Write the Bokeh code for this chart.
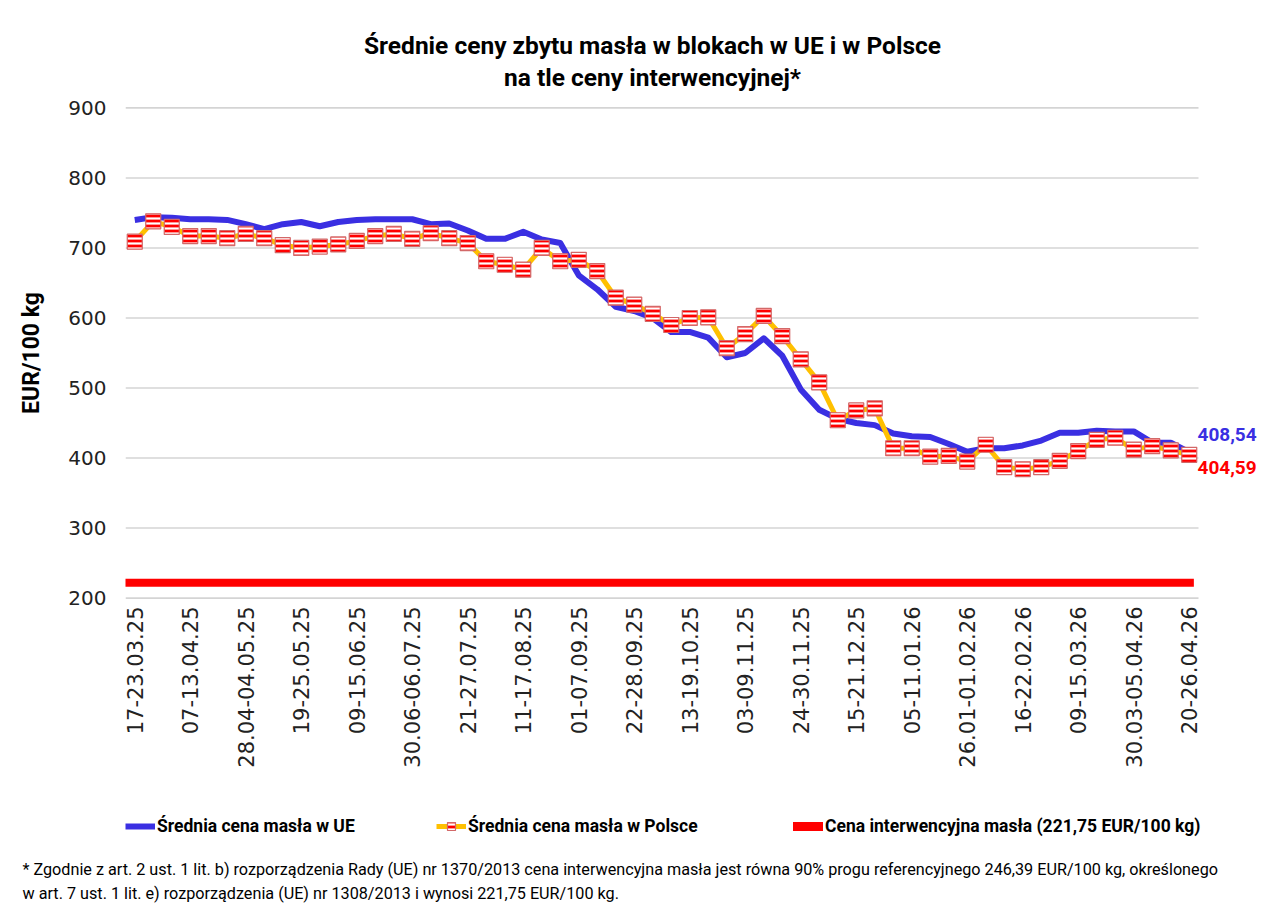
from bokeh.plotting import figure
from bokeh.models import Range1d, FixedTicker, Label, Legend, LegendItem, Title
from bokeh.layouts import column
from bokeh.embed import file_html
from bokeh.resources import INLINE
from math import pi

# ---------------- data ----------------
weeks = [
    "17-23.03.25", "24-30.03.25", "31.03-06.04.25", "07-13.04.25", "14-20.04.25", "21-27.04.25",
    "28.04-04.05.25", "05-11.05.25", "12-18.05.25", "19-25.05.25", "26.05-01.06.25", "02-08.06.25",
    "09-15.06.25", "16-22.06.25", "23-29.06.25", "30.06-06.07.25", "07-13.07.25", "14-20.07.25",
    "21-27.07.25", "28.07-03.08.25", "04-10.08.25", "11-17.08.25", "18-24.08.25", "25-31.08.25",
    "01-07.09.25", "08-14.09.25", "15-21.09.25", "22-28.09.25", "29.09-05.10.25", "06-12.10.25",
    "13-19.10.25", "20-26.10.25", "27.10-02.11.25", "03-09.11.25", "10-16.11.25", "17-23.11.25",
    "24-30.11.25", "01-07.12.25", "08-14.12.25", "15-21.12.25", "22-28.12.25", "29.12-04.01.26",
    "05-11.01.26", "12-18.01.26", "19-25.01.26", "26.01-01.02.26", "02-08.02.26", "09-15.02.26",
    "16-22.02.26", "23.02-01.03.26", "02-08.03.26", "09-15.03.26", "16-22.03.26", "23-29.03.26",
    "30.03-05.04.26", "06-12.04.26", "13-19.04.26", "20-26.04.26",
]
tick_labels = [
    "17-23.03.25", "07-13.04.25", "28.04-04.05.25", "19-25.05.25", "09-15.06.25", "30.06-06.07.25",
    "21-27.07.25", "11-17.08.25", "01-07.09.25", "22-28.09.25", "13-19.10.25", "03-09.11.25",
    "24-30.11.25", "15-21.12.25", "05-11.01.26", "26.01-01.02.26", "16-22.02.26", "09-15.03.26",
    "30.03-05.04.26", "20-26.04.26",
]
eu_price = [
    740, 744, 743, 741, 741, 740, 734, 727, 734, 737,
    731, 737, 740, 741, 741, 741, 734, 735, 725, 713,
    713, 723, 712, 707, 661, 641, 616, 610, 600, 580,
    580, 572, 544, 550, 571, 546, 498, 469, 456, 450,
    447, 435, 431, 430, 420, 409, 414, 414, 418, 425,
    436, 436, 439, 438, 438, 422, 422, 408.54,
]
pl_price = [
    709, 738, 730, 717, 717, 714, 720, 714, 704, 700,
    702, 705, 710, 717, 720, 713, 721, 714, 707, 681,
    676, 669, 700, 681, 683, 667, 629, 619, 606, 590,
    600, 601, 557, 577, 603, 574, 541, 508, 454, 468,
    471, 414, 414, 402, 403, 395, 419, 387, 384, 387,
    396, 410, 426, 429, 412, 417, 411, 404.59,
]
intervention_price = 221.75
y_ticks = [200, 300, 400, 500, 600, 700, 800, 900]

title_lines = ["Średnie ceny zbytu masła w blokach w UE i w Polsce", "na tle ceny interwencyjnej*"]
legend_labels = ["Średnia cena masła w UE", "Średnia cena masła w Polsce",
                 "Cena interwencyjna masła (221,75 EUR/100 kg)"]
footnote_1 = "* Zgodnie z art. 2 ust. 1 lit. b)  rozporządzenia Rady (UE) nr 1370/2013 cena interwencyjna masła jest równa 90% progu referencyjnego 246,39 EUR/100 kg, określonego"
footnote_2 = "w art. 7 ust. 1 lit. e) rozporządzenia (UE) nr 1308/2013 i wynosi 221,75 EUR/100 kg."

BLUE = "#3A2FE2"
YELLOW = "#FFC000"
RED = "#FF0000"
NAN = float("nan")

x_idx = list(range(len(weeks)))
tick_pos = [weeks.index(t) for t in tick_labels]
x_lo = x_idx[0] - 0.5
x_hi = x_idx[-1] + 0.5

W = 1262
FRAME_W = W - 125
H_TITLE = 95
H_TOP = 705
H_BOT = 113


def blank_strip(height, **kw):
    f = figure(width=W, height=height, x_range=Range1d(0, FRAME_W), y_range=Range1d(0, height),
               x_axis_type=None, y_axis_type=None, output_backend="svg", toolbar_location=None,
               min_border_left=125, min_border_right=0, min_border_top=0, **kw)
    f.title = None
    f.outline_line_color = None
    f.xgrid.visible = False
    f.ygrid.visible = False
    f.background_fill_color = "white"
    f.border_fill_color = "white"
    return f


# ================= title strip =================
t = blank_strip(H_TITLE, min_border_bottom=0)
for txt, yy in zip(title_lines, [H_TITLE - 45, H_TITLE - 77]):
    t.add_layout(Label(x=527, y=yy, text=txt, text_align="center", text_baseline="middle",
                       text_font="Roboto", text_font_style="bold", text_font_size="24.5px",
                       text_color="black"))

# ================= main chart =================
p = figure(width=W, height=H_TOP, x_range=Range1d(x_lo, x_hi + 3.46),
           y_range=Range1d(198, 902), output_backend="svg", toolbar_location=None,
           min_border_left=125, min_border_right=0, min_border_top=11,
           min_border_bottom=201)
p.title = None
p.outline_line_color = None
p.background_fill_color = "white"
p.border_fill_color = "white"
p.xgrid.visible = False
p.ygrid.visible = False

# horizontal gridlines (limited to the category area)
p.segment(x0=[x_lo] * len(y_ticks), x1=[x_hi] * len(y_ticks), y0=y_ticks, y1=y_ticks,
          line_color="#d4d4d4", line_width=1.6)

p.yaxis.ticker = FixedTicker(ticks=y_ticks)
p.yaxis.axis_line_color = None
p.yaxis.major_tick_line_color = None
p.yaxis.minor_tick_line_color = None
p.yaxis.major_tick_out = 0
p.yaxis.major_label_standoff = 19
p.yaxis.major_label_text_font = "DejaVu Sans"
p.yaxis.major_label_text_font_size = "20px"
p.yaxis.major_label_text_color = "#222222"
p.yaxis.axis_label = "EUR/100 kg"
p.yaxis.axis_label_text_font = "Roboto"
p.yaxis.axis_label_text_font_style = "bold"
p.yaxis.axis_label_text_font_size = "23px"
p.yaxis.axis_label_text_color = "black"
p.yaxis.axis_label_standoff = 20

p.xaxis.ticker = FixedTicker(ticks=tick_pos)
p.xaxis.major_label_overrides = {i: t_ for i, t_ in zip(tick_pos, tick_labels)}
p.xaxis.major_label_orientation = pi / 2
p.xaxis.axis_line_color = None
p.xaxis.major_tick_line_color = None
p.xaxis.minor_tick_line_color = None
p.xaxis.major_tick_out = 0
p.xaxis.major_label_standoff = 7
p.xaxis.major_label_text_font = "DejaVu Sans"
p.xaxis.major_label_text_font_size = "21px"
p.xaxis.major_label_text_color = "#222222"

line_eu = dict(line_color=BLUE, line_width=6, line_join="round")
line_pl = dict(line_color=YELLOW, line_width=5, line_join="round")
mark_pl = dict(marker="square", size=15, fill_color=RED, line_color="#D26868", line_width=1.2,
               hatch_pattern="horizontal_line", hatch_color="white", hatch_weight=2.2,
               hatch_scale=5)

p.line(x=[x_lo - 0.3, x_idx[-1] + 0.25], y=[intervention_price, intervention_price],
       line_color=RED, line_width=8)
p.line(x=x_idx, y=eu_price, **line_eu)
p.line(x=x_idx, y=pl_price, **line_pl)
p.scatter(x=x_idx, y=pl_price, **mark_pl)

# end-value labels
p.add_layout(Label(x=x_hi, y=eu_price[-1], x_offset=-1, y_offset=18,
                   text=f"{eu_price[-1]:.2f}".replace(".", ","), text_align="left",
                   text_baseline="middle", text_font="Roboto", text_font_style="bold",
                   text_font_size="19px", text_color=BLUE))
p.add_layout(Label(x=x_hi, y=pl_price[-1], x_offset=-1, y_offset=-13,
                   text=f"{pl_price[-1]:.2f}".replace(".", ","), text_align="left",
                   text_baseline="middle", text_font="Roboto", text_font_style="bold",
                   text_font_size="19px", text_color=RED))

# ================= legend + footnote strip =================
q = blank_strip(H_BOT, min_border_bottom=61)

k_eu = q.line(x=[NAN], y=[NAN], **line_eu)
k_pl_line = q.line(x=[NAN], y=[NAN], **line_pl)
k_pl_mark = q.scatter(x=[NAN], y=[NAN], **mark_pl)
k_int = q.line(x=[NAN], y=[NAN], line_color=RED, line_width=9, line_cap="round")

for lbl, rends, lx in [(legend_labels[0], [k_eu], 0),
                       (legend_labels[1], [k_pl_line, k_pl_mark], 311),
                       (legend_labels[2], [k_int], 668)]:
    q.add_layout(Legend(items=[LegendItem(label=lbl, renderers=rends)], location=(lx, 16),
                        orientation="horizontal", border_line_color=None,
                        background_fill_alpha=0, padding=0, margin=0, spacing=0,
                        glyph_width=30, glyph_height=20, label_standoff=2, label_height=20,
                        label_text_font="Roboto", label_text_font_style="bold",
                        label_text_font_size="17.5px", label_text_color="black"))

q.add_layout(Title(text=footnote_1, align="left", offset=-103, standoff=10,
                   text_font="Roboto", text_font_style="normal", text_font_size="16.2px",
                   text_color="black"), "below")
q.add_layout(Title(text=footnote_2, align="left", offset=-103, standoff=-4,
                   text_font="Roboto", text_font_style="normal", text_font_size="16.2px",
                   text_color="black"), "below")

layout = column(t, p, q, spacing=0)
open("out.html", "w").write(file_html(layout, INLINE))
